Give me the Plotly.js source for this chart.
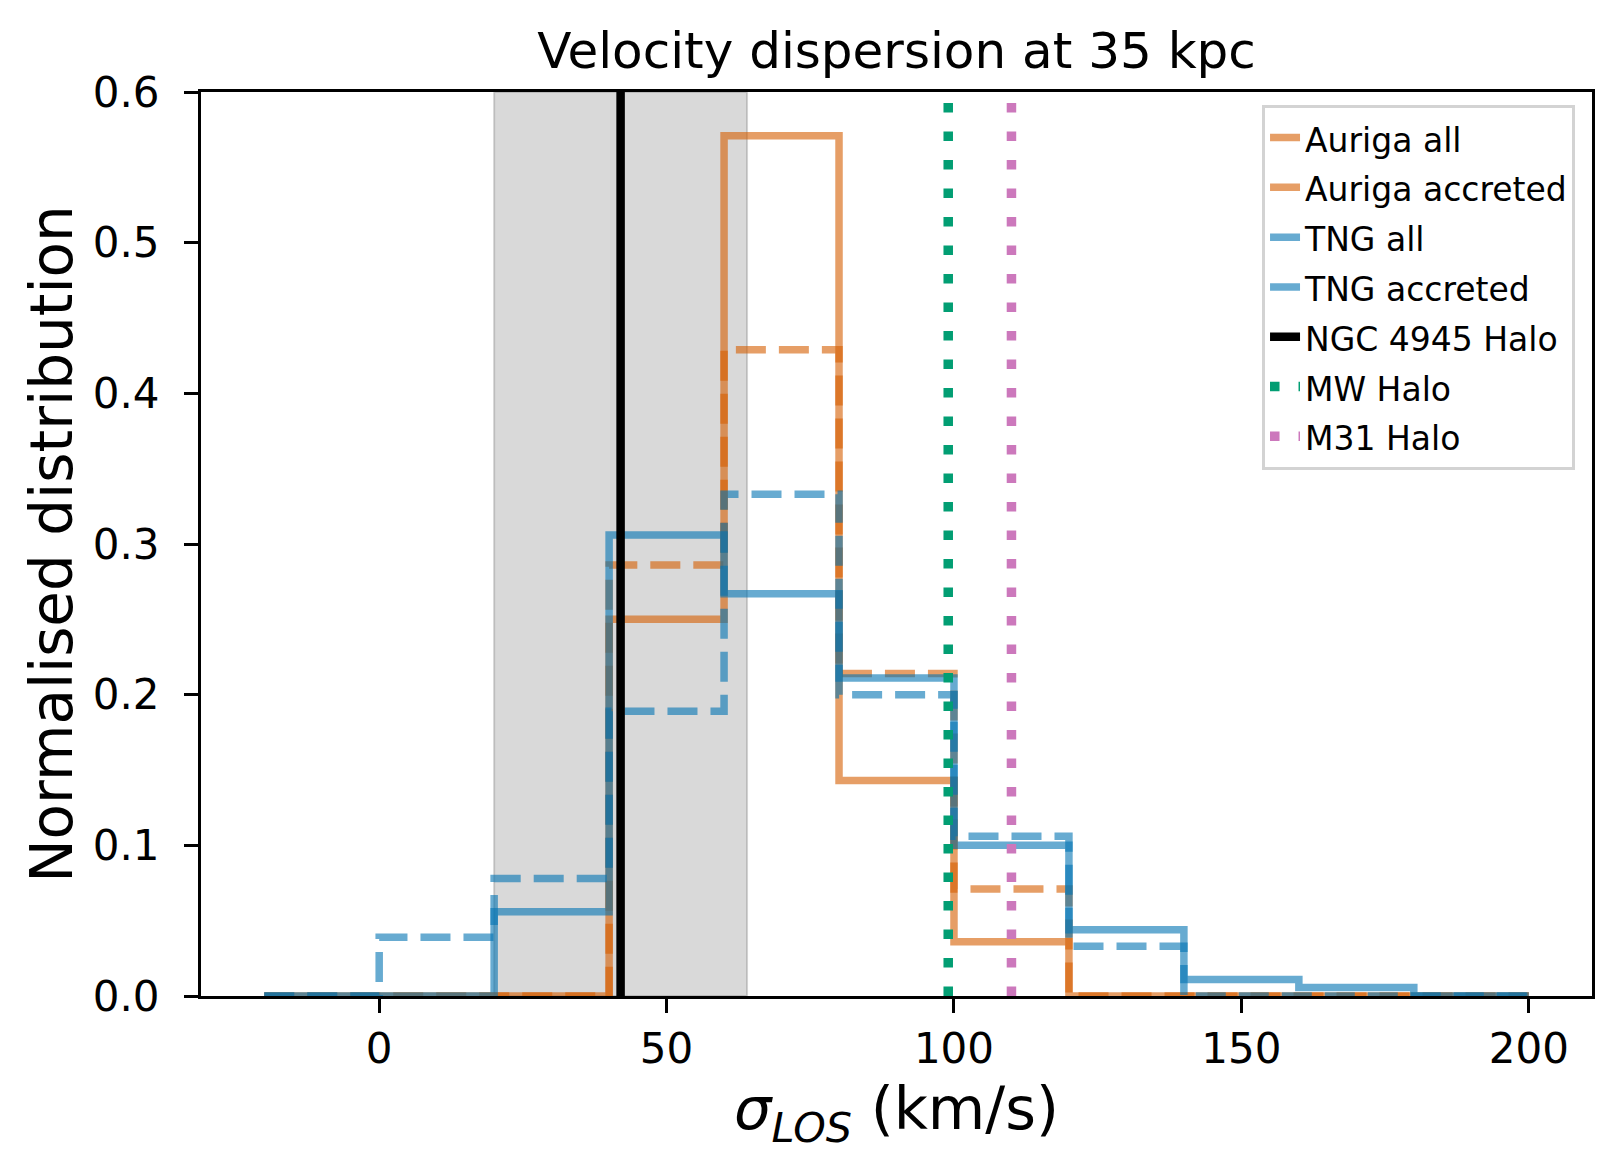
<!DOCTYPE html>
<html>
<head>
<meta charset="utf-8">
<script src="https://cdn.plot.ly/plotly-3.0.1.min.js"></script>
<style>html,body{margin:0;padding:0;background:#fff;}#chart{width:1624px;height:1173px;}</style>
</head>
<body>
<div id="chart"></div>
<script>
// Bin edges (km/s)
const binEdges = [-20, 0, 20, 40, 60, 80, 100, 120, 140, 160, 180, 200];
// Normalised histogram values per bin
const aurigaAll      = [0, 0, 0, 0.250, 0.571, 0.143, 0.036, 0, 0, 0, 0];
const aurigaAccreted = [0, 0, 0, 0.286, 0.429, 0.214, 0.071, 0, 0, 0, 0];
const tngAll         = [0, 0, 0.056, 0.306, 0.267, 0.211, 0.100, 0.044, 0.011, 0.0056, 0];
const tngAccreted    = [0, 0.039, 0.078, 0.189, 0.333, 0.200, 0.106, 0.033, 0, 0, 0];
// Reference halo dispersions (km/s)
const ngc4945Sigma = 42;
const ngc4945Err = 22;
const mwSigma = 99;
const m31Sigma = 110;
const xTicks = [0, 50, 100, 150, 200];
const yTicks = [0, 0.1, 0.2, 0.3, 0.4, 0.5, 0.6];

function stepXY(edges, vals) {
  const xs = [edges[0]], ys = [0];
  for (let i = 0; i < vals.length; i++) { xs.push(edges[i]); ys.push(vals[i]); }
  xs.push(edges[edges.length - 1]); ys.push(vals[vals.length - 1]);
  xs.push(edges[edges.length - 1]); ys.push(0);
  return {x: xs, y: ys};
}

const ORANGE = '#d55e00', BLUE = '#0173b2', GREEN = '#029e73', PINK = '#cc78bc';
const LW = 7.5;
const DASH = '30px,13px';
const DOT = '9.5px,19px';
const LEG_TXT = 33;

function lbl(s) { return '<span style="font-size:' + LEG_TXT + 'px">' + s + '</span>'; }

function hist(vals, name, color, dash) {
  const s = stepXY(binEdges, vals);
  return {type: 'scatter', mode: 'lines', x: s.x, y: s.y, name: lbl(name), opacity: 0.6,
    line: {color: color, width: LW, shape: 'hv', dash: dash}, hoverinfo: 'skip'};
}
function vline(xv, name, color, width, dash) {
  return {type: 'scatter', mode: 'lines', x: [xv, xv], y: [yTicks[0], yTicks[yTicks.length - 1]], name: lbl(name),
    line: {color: color, width: width, dash: dash}, hoverinfo: 'skip'};
}

const data = [
  hist(aurigaAll, 'Auriga all', ORANGE, 'solid'),
  hist(aurigaAccreted, 'Auriga accreted', ORANGE, DASH),
  hist(tngAll, 'TNG all', BLUE, 'solid'),
  hist(tngAccreted, 'TNG accreted', BLUE, DASH),
  vline(ngc4945Sigma, 'NGC 4945 Halo', '#000000', 8.5, 'solid'),
  vline(mwSigma, 'MW Halo', GREEN, 9.5, DOT),
  vline(m31Sigma, 'M31 Halo', PINK, 9.5, DOT)
];

const FONT = 'DejaVu Sans, Verdana, sans-serif';
const layout = {
  width: 1624, height: 1173,
  margin: {l: 201, r: 32, t: 92, b: 177},
  paper_bgcolor: '#ffffff', plot_bgcolor: '#ffffff',
  font: {family: FONT, color: '#000000', size: 42},
  showlegend: true,
  title: {text: 'Velocity dispersion at 35 kpc', font: {family: FONT, size: 50, color: '#000'},
    x: 0.5, xref: 'paper', y: 1 - 50 / 1173, yref: 'container', yanchor: 'middle'},
  xaxis: {
    range: [-31, 211], tickvals: xTicks, ticktext: xTicks.map(String),
    ticks: 'outside', ticklen: 14, tickwidth: 3, tickcolor: '#000',
    showline: true, linecolor: '#000', linewidth: 3, mirror: true,
    showgrid: false, zeroline: false,
    tickfont: {family: FONT, size: 42},
    title: {text: '<i>σ</i><sub><i>LOS</i></sub> (km/s)', font: {family: FONT, size: 59}, standoff: 16}
  },
  yaxis: {
    range: [0, 0.6], tickvals: yTicks, ticktext: yTicks.map(v => v.toFixed(1)),
    ticks: 'outside', ticklen: 14, tickwidth: 3, tickcolor: '#000',
    showline: true, linecolor: '#000', linewidth: 3, mirror: true,
    showgrid: false, zeroline: false,
    tickfont: {family: FONT, size: 42}, ticklabelstandoff: 16,
    title: {text: 'Normalised distribution', font: {family: FONT, size: 58}, standoff: 2}
  },
  legend: {
    x: 0.9878, y: 0.986, xanchor: 'right', yanchor: 'top',
    bgcolor: 'rgba(255,255,255,0.8)', bordercolor: '#d3d3d3', borderwidth: 3,
    font: {family: FONT, size: 36, color: '#000'}
  },
  shapes: [
    {type: 'rect', xref: 'x', yref: 'paper', x0: ngc4945Sigma - ngc4945Err, x1: ngc4945Sigma + ngc4945Err,
     y0: 0, y1: 1, fillcolor: 'rgba(128,128,128,0.3)', line: {color: 'rgba(128,128,128,0.35)', width: 2}, layer: 'below'}
  ]
};

Plotly.newPlot('chart', data, layout, {staticPlot: true, displayModeBar: false});
</script>
</body>
</html>
